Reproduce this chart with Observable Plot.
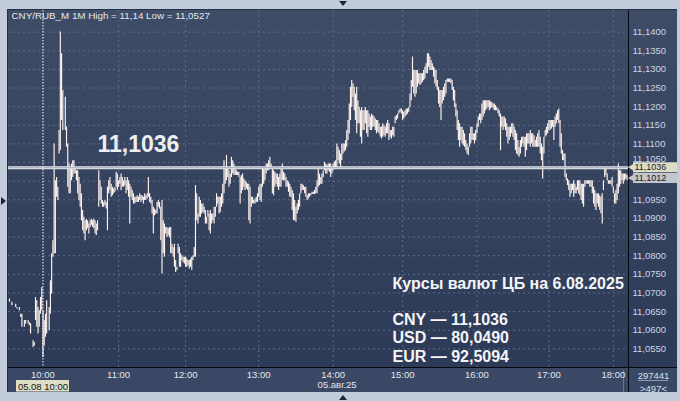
<!DOCTYPE html>
<html><head><meta charset="utf-8">
<script src="https://cdn.jsdelivr.net/npm/d3@7"></script>
<script src="https://cdn.jsdelivr.net/npm/@observablehq/plot@0.6"></script>
<style>
html,body{margin:0;padding:0;background:#c2ccda;}
#wrap{position:relative;width:680px;height:401px;overflow:hidden;background:#c2ccda;}
.abs{position:absolute;}
#panel{left:7px;top:9px;width:670px;height:383px;background:linear-gradient(#3f4c66,#2c3956);border-left:1px solid #243048;border-top:1px solid #243048;box-sizing:border-box;}
#band{left:8px;top:368px;width:669px;height:24px;background:#3b4865;}
#vline{left:628px;top:10px;width:1px;height:382px;background:#05080e;}
#hline{left:8px;top:367px;width:669px;height:1px;background:#05080e;}
#mark18{left:623px;top:370px;width:1px;height:22px;background:#6a768c;}
#volsep{left:638px;top:380px;width:30px;height:1px;background:#8e9ab0;}
#tt{left:339px;top:1px;width:0;height:0;border-left:4px solid transparent;border-right:4px solid transparent;border-top:5px solid #1c2535;}
#tb{left:339px;top:395px;width:0;height:0;border-left:4px solid transparent;border-right:4px solid transparent;border-bottom:5px solid #1c2535;}
#tl{left:1px;top:197px;width:0;height:0;border-top:4px solid transparent;border-bottom:4px solid transparent;border-left:5px solid #1c2535;}
#chart{left:0;top:0;}
</style></head>
<body>
<div id="wrap">
  <div id="panel" class="abs"></div>
  <div id="band" class="abs"></div>
  <div id="vline" class="abs"></div>
  <div id="hline" class="abs"></div>
  <div id="mark18" class="abs"></div>
  <div id="volsep" class="abs"></div>
  <div id="tt" class="abs"></div>
  <div id="tb" class="abs"></div>
  <div id="tl" class="abs"></div>
  <div id="chart" class="abs"></div>
</div>
<script>
// ---- data ----
const symbol = "CNY/RUB_M";
const period = "1M";
const sessionHigh = 11.14;
const sessionLow = 11.0527;
const cbRate = 11.1036;
const lastPrice = 11.1012;
const cbDate = "6.08.2025";
const rateCodes = ["CNY", "USD", "EUR"];
const rateValues = [11.1036, 80.0490, 92.5094];
const hourLabels = ["10:00","11:00","12:00","13:00","14:00","15:00","16:00","17:00","18:00"];
const hourBars = [27, 88, 142, 201, 261, 317, 377, 435, 487];
const dateLabel = "05.авг.25";
const crossBar = 27;
const crossLabel = "05.08 10:00";
const volume = "297441";
const barCount = 497;
const yTicks = [11.055,11.06,11.065,11.07,11.075,11.08,11.085,11.09,11.095,11.10,11.105,11.11,11.115,11.12,11.125,11.13,11.135,11.14];
// [bar index, high, low]
const candles = [
[0,11.0684,11.0675],[2,11.0675,11.0666],[5,11.0670,11.0661],[6,11.0661,11.0657],[8,11.0661,11.0652],[9,11.0643,11.0634],[10,11.0643,11.0608],[12,11.0626,11.0608],[13,11.0626,11.0617],[15,11.0626,11.0617],[16,11.0621,11.0612],[17,11.0617,11.0590],[19,11.0572,11.0554],[20,11.0567,11.0558],[21,11.0688,11.0626],[22,11.0679,11.0608],[23,11.0661,11.0590],[24,11.0652,11.0608],[25,11.0688,11.0643],[26,11.0715,11.0652],[27,11.0652,11.0527],[28,11.0626,11.0558],[29,11.0643,11.0581],[30,11.0679,11.0590],[32,11.0661,11.0599],[33,11.0733,11.0643],[34,11.0805,11.0697],[35,11.0840,11.0796],[36,11.1100,11.0805],[37,11.1001,11.0805],[38,11.1010,11.0957],[39,11.0984,11.0948],[40,11.1136,11.1073],[41,11.1400,11.1082],[42,11.1342,11.1163],[43,11.1243,11.1136],[45,11.1225,11.1136],[46,11.1145,11.1091],[47,11.1100,11.0984],[48,11.1046,11.0966],[49,11.1037,11.0966],[50,11.1046,11.1001],[51,11.1055,11.1010],[52,11.1055,11.1019],[53,11.1037,11.1019],[54,11.1028,11.1001],[55,11.1028,11.0966],[56,11.1010,11.0948],[57,11.0992,11.0930],[58,11.0966,11.0894],[59,11.0921,11.0867],[60,11.0903,11.0858],[61,11.0894,11.0840],[62,11.0898,11.0867],[63,11.0894,11.0872],[64,11.0885,11.0858],[65,11.0894,11.0876],[66,11.0898,11.0881],[67,11.0894,11.0876],[68,11.0898,11.0872],[69,11.0894,11.0858],[70,11.0885,11.0854],[71,11.0894,11.0867],[72,11.1028,11.0930],[73,11.1001,11.0948],[74,11.0984,11.0939],[75,11.0948,11.0930],[76,11.0943,11.0930],[77,11.0948,11.0934],[78,11.0943,11.0925],[79,11.0984,11.0867],[80,11.1001,11.0966],[81,11.1010,11.0975],[82,11.0992,11.0957],[83,11.0984,11.0961],[84,11.0979,11.0966],[85,11.0984,11.0970],[86,11.1024,11.0984],[87,11.1019,11.0975],[88,11.1001,11.0984],[89,11.1010,11.0992],[90,11.1019,11.0975],[91,11.1010,11.0984],[92,11.1001,11.0984],[93,11.1010,11.0988],[94,11.1001,11.0966],[95,11.1010,11.0975],[96,11.1001,11.0957],[97,11.0992,11.0885],[98,11.0984,11.0957],[99,11.0975,11.0948],[100,11.0966,11.0939],[101,11.0957,11.0939],[102,11.0957,11.0943],[103,11.0961,11.0943],[104,11.0957,11.0943],[105,11.0966,11.0948],[106,11.0961,11.0943],[107,11.0961,11.0948],[108,11.0957,11.0939],[109,11.0966,11.0948],[110,11.0961,11.0948],[111,11.0966,11.0952],[112,11.1010,11.0957],[113,11.0966,11.0943],[114,11.0957,11.0939],[115,11.0948,11.0912],[116,11.0930,11.0858],[117,11.0925,11.0907],[118,11.0921,11.0912],[119,11.0943,11.0912],[120,11.0948,11.0930],
[121,11.0943,11.0925],[122,11.0930,11.0840],[123,11.0948,11.0751],[124,11.0894,11.0805],[125,11.0885,11.0796],[126,11.0876,11.0858],[127,11.0876,11.0849],[128,11.0872,11.0854],[129,11.0876,11.0849],[130,11.0876,11.0805],[131,11.0831,11.0805],[132,11.0822,11.0796],[133,11.0831,11.0769],[134,11.0787,11.0755],[135,11.0769,11.0760],[136,11.0831,11.0805],[137,11.0822,11.0769],[138,11.0805,11.0769],[139,11.0800,11.0787],[140,11.0796,11.0782],[141,11.0796,11.0778],[142,11.0796,11.0769],[143,11.0791,11.0769],[144,11.0787,11.0773],[145,11.0787,11.0764],[146,11.0791,11.0769],[147,11.0796,11.0760],[148,11.0800,11.0787],[149,11.0822,11.0796],[150,11.0988,11.0796],[151,11.0966,11.0894],[152,11.0912,11.0885],[153,11.0957,11.0903],[154,11.0948,11.0903],[155,11.0939,11.0912],[156,11.0939,11.0916],[157,11.0930,11.0912],[158,11.0921,11.0885],[159,11.0903,11.0885],[160,11.0921,11.0903],[161,11.0912,11.0867],[162,11.0921,11.0858],[163,11.0912,11.0885],[164,11.0912,11.0894],[165,11.0930,11.0885],[166,11.0930,11.0903],[167,11.0966,11.0930],[168,11.0957,11.0939],[169,11.0957,11.0912],[170,11.0957,11.0916],[171,11.0966,11.0930],[172,11.0992,11.0939],[173,11.1055,11.0966],[174,11.1037,11.0992],[175,11.1069,11.1001],[176,11.1037,11.1010],[177,11.1028,11.0984],[178,11.1019,11.0992],[179,11.1064,11.1010],[180,11.1055,11.1019],[181,11.1046,11.1015],[182,11.1037,11.1015],[183,11.1028,11.1015],[184,11.1024,11.1015],[185,11.1024,11.1010],[186,11.1010,11.0939],[187,11.1015,11.0966],[188,11.1019,11.0975],[189,11.1006,11.0984],[190,11.1001,11.0975],[191,11.0997,11.0979],[192,11.0992,11.0975],[193,11.0992,11.0894],[194,11.0984,11.0885],[195,11.0957,11.0930],[196,11.0957,11.0939],[197,11.0948,11.0939],[198,11.0952,11.0939],[199,11.0957,11.0943],[200,11.0966,11.0943],[201,11.0984,11.0957],[202,11.0992,11.0948],[203,11.0992,11.0943],[204,11.1037,11.0984],[205,11.1037,11.0992],[206,11.1037,11.1001],[207,11.1046,11.1019],[208,11.1046,11.1028],[209,11.1055,11.1028],[210,11.1064,11.1033],[211,11.1046,11.1037],[212,11.1037,11.0966],[213,11.1028,11.0961],[214,11.1024,11.0984],[215,11.1019,11.0992],[216,11.1019,11.0984],[217,11.1010,11.0975],[218,11.1019,11.0984],[219,11.1037,11.0984],[220,11.1046,11.1001],[221,11.1024,11.1001],[222,11.1019,11.1001],[223,11.1010,11.0984],[224,11.1001,11.0984],[225,11.0997,11.0970],[226,11.0992,11.0957],[227,11.0984,11.0957],[228,11.0975,11.0921],[229,11.0966,11.0894],[230,11.0948,11.0894],[231,11.0930,11.0890],[232,11.0939,11.0912],[233,11.0948,11.0921],[234,11.0966,11.0930],[235,11.0992,11.0966],[236,11.0992,11.0975],[237,11.0988,11.0975],[238,11.0984,11.0966],[239,11.0984,11.0957],[240,11.0961,11.0948],[241,11.0966,11.0952],[242,11.0966,11.0957],[243,11.0966,11.0961],
[244,11.0970,11.0964],[245,11.0970,11.0964],[246,11.0975,11.0964],[247,11.0984,11.0966],[248,11.1001,11.0966],[249,11.1037,11.0984],[250,11.1019,11.0988],[251,11.1010,11.0992],[252,11.1019,11.0992],[253,11.1028,11.1010],[254,11.1051,11.1028],[255,11.1046,11.1019],[256,11.1042,11.1019],[257,11.1046,11.1028],[258,11.1046,11.1024],[259,11.1046,11.1010],[260,11.1037,11.1019],[261,11.1046,11.1028],[262,11.1051,11.1033],[263,11.1055,11.1037],[264,11.1100,11.1037],[265,11.1091,11.1055],[266,11.1082,11.1046],[267,11.1073,11.1037],[268,11.1100,11.1055],[269,11.1100,11.1073],[270,11.1100,11.1078],[271,11.1109,11.1082],[272,11.1136,11.1091],[273,11.1163,11.1109],[274,11.1207,11.1127],[275,11.1252,11.1163],[276,11.1270,11.1198],[277,11.1261,11.1225],[278,11.1252,11.1189],[279,11.1234,11.1163],[280,11.1252,11.1127],[281,11.1216,11.1154],[282,11.1198,11.1154],[283,11.1189,11.1118],[284,11.1198,11.1100],[285,11.1189,11.1136],[286,11.1189,11.1136],[287,11.1198,11.1154],[288,11.1189,11.1127],[289,11.1189,11.1118],[290,11.1180,11.1145],[291,11.1172,11.1136],[292,11.1180,11.1136],[293,11.1176,11.1145],[294,11.1172,11.1145],[295,11.1167,11.1136],[296,11.1163,11.1127],[297,11.1163,11.1131],[298,11.1154,11.1127],[299,11.1145,11.1118],[300,11.1145,11.1113],[301,11.1154,11.1118],[302,11.1149,11.1122],[303,11.1145,11.1118],[304,11.1154,11.1127],[305,11.1163,11.1127],[306,11.1154,11.1109],[307,11.1136,11.1118],[308,11.1136,11.1113],[309,11.1145,11.1122],[310,11.1145,11.1118],[311,11.1172,11.1154],[312,11.1176,11.1163],[313,11.1180,11.1167],[314,11.1189,11.1180],[315,11.1194,11.1185],[316,11.1194,11.1180],[317,11.1189,11.1163],[318,11.1185,11.1167],[319,11.1189,11.1172],[320,11.1194,11.1176],[321,11.1194,11.1180],[322,11.1198,11.1185],[323,11.1234,11.1198],[324,11.1270,11.1216],[325,11.1333,11.1252],[326,11.1297,11.1234],[327,11.1297,11.1225],[328,11.1297,11.1234],[329,11.1297,11.1252],[330,11.1288,11.1261],[331,11.1288,11.1257],[332,11.1288,11.1261],[333,11.1288,11.1265],[334,11.1297,11.1270],[335,11.1306,11.1274],[336,11.1315,11.1288],[337,11.1342,11.1288],[338,11.1342,11.1306],[339,11.1333,11.1297],[340,11.1324,11.1297],[341,11.1315,11.1297],[342,11.1306,11.1279],[343,11.1301,11.1261],[344,11.1297,11.1252],[345,11.1270,11.1243],[346,11.1252,11.1207],[347,11.1243,11.1198],[348,11.1243,11.1163],[349,11.1243,11.1207],[350,11.1252,11.1216],[351,11.1261,11.1225],[352,11.1270,11.1234],[353,11.1274,11.1265],[354,11.1274,11.1265],[355,11.1274,11.1265],[356,11.1274,11.1261],[357,11.1270,11.1243],[358,11.1252,11.1216],[359,11.1243,11.1198],[360,11.1207,11.1172],[361,11.1189,11.1136],[362,11.1163,11.1109],[363,11.1154,11.1091],[364,11.1145,11.1109],[365,11.1145,11.1100],[366,11.1136,11.1095],[367,11.1127,11.1091],[368,11.1109,11.1082],[369,11.1100,11.1073],[370,11.1091,11.1069],
[371,11.1127,11.1091],[372,11.1145,11.1100],[373,11.1145,11.1109],[374,11.1127,11.1109],[375,11.1127,11.1100],[376,11.1136,11.1109],[377,11.1154,11.1127],[378,11.1172,11.1145],[379,11.1180,11.1163],[380,11.1180,11.1154],[381,11.1207,11.1163],[382,11.1216,11.1172],[383,11.1216,11.1180],[384,11.1216,11.1189],[385,11.1216,11.1194],[386,11.1216,11.1198],[387,11.1216,11.1189],[388,11.1212,11.1194],[389,11.1212,11.1198],[390,11.1207,11.1194],[391,11.1207,11.1189],[392,11.1203,11.1189],[393,11.1198,11.1189],[394,11.1194,11.1180],[395,11.1189,11.1172],[396,11.1180,11.1082],[397,11.1172,11.1145],[398,11.1172,11.1136],[399,11.1172,11.1145],[400,11.1167,11.1136],[401,11.1154,11.1118],[402,11.1145,11.1100],[403,11.1145,11.1109],[404,11.1145,11.1118],[405,11.1154,11.1127],[406,11.1154,11.1118],[407,11.1145,11.1109],[408,11.1136,11.1082],[409,11.1127,11.1073],[410,11.1109,11.1069],[411,11.1091,11.1064],[412,11.1109,11.1073],[413,11.1118,11.1091],[414,11.1118,11.1100],[415,11.1118,11.1091],[416,11.1118,11.1064],[417,11.1127,11.1082],[418,11.1127,11.1100],[419,11.1127,11.1100],[420,11.1136,11.1091],[421,11.1127,11.1100],[422,11.1127,11.1091],[423,11.1122,11.1091],[424,11.1109,11.1091],[425,11.1118,11.1091],[426,11.1127,11.1091],[427,11.1136,11.1091],[428,11.1118,11.1073],[429,11.1100,11.1055],[430,11.1091,11.1006],[431,11.1118,11.1073],[432,11.1136,11.1118],[433,11.1145,11.1122],[434,11.1154,11.1127],[435,11.1163,11.1136],[436,11.1163,11.1136],[437,11.1163,11.1140],[438,11.1163,11.1145],[439,11.1163,11.1109],[440,11.1172,11.1145],[441,11.1180,11.1154],[442,11.1189,11.1163],[443,11.1194,11.1154],[444,11.1163,11.1091],[445,11.1127,11.1073],[446,11.1082,11.1055],[447,11.1073,11.1055],[448,11.1073,11.1010],[449,11.1019,11.1001],[450,11.1006,11.0988],[451,11.1001,11.0975],[452,11.0992,11.0957],[453,11.0992,11.0966],[454,11.0992,11.0975],[455,11.1001,11.0957],[456,11.0992,11.0966],[457,11.0984,11.0966],[458,11.1001,11.0975],[459,11.1001,11.0966],[460,11.1001,11.0961],[461,11.0992,11.0948],[462,11.0992,11.0939],[463,11.0992,11.0930],[464,11.1001,11.0984],[465,11.1001,11.0992],[466,11.1001,11.0992],[467,11.1001,11.0992],[468,11.1001,11.0984],[469,11.1001,11.0984],[470,11.1001,11.0966],[471,11.0984,11.0939],[472,11.0975,11.0930],[473,11.0966,11.0921],[474,11.0966,11.0939],[475,11.0966,11.0930],[476,11.0961,11.0921],[477,11.0957,11.0912],[478,11.0966,11.0885],[479,11.1001,11.0975],[480,11.1037,11.1010],[481,11.1037,11.1015],[482,11.1019,11.1001],[483,11.1001,11.0992],[484,11.1001,11.0992],[485,11.1001,11.0992],[486,11.1010,11.0984],[487,11.0984,11.0966],[488,11.0966,11.0939],[489,11.0975,11.0939],[490,11.0992,11.0948],[491,11.1046,11.0966],[492,11.1028,11.0984],[493,11.1028,11.0992],[494,11.1019,11.1001],[495,11.1019,11.0992],[496,11.1019,11.1001],[497,11.1019,11.1006],[498,11.1015,11.1001]
];

// ---- chart ----
const fmt4 = d => d.toFixed(4).replace(".", ",");
const fmtShort = d => String(d).replace(".", ",");
const bars = candles.map(([bar, high, low]) => ({bar, high, low}));
const header = `${symbol} ${period} High = ${fmtShort(sessionHigh)} Low = ${fmtShort(sessionLow)}`;
const ratesText = `Курсы валют ЦБ на ${cbDate}\n\n` + rateCodes.map((c, i) => `${c} — ${fmt4(rateValues[i])}`).join("\n");
// tick labels near the price tags: the one under the last-price tag is hidden,
// the one just above the CB tag is nudged up so it stays readable
const nearTag = t => Math.abs(t - lastPrice) < 0.0013 || Math.abs(t - cbRate) < 0.0015;
const yLabelTicks = yTicks.filter(t => !nearTag(t));
const nudgedTicks = yTicks.filter(t => Math.abs(t - cbRate) < 0.0015 && t > cbRate);
const font = "'Liberation Sans', Arial, sans-serif";
const grid = "#5c6b89";
const tagStyle = {frameAnchor: "right", textAnchor: "start", lineAnchor: "middle", dx: 6, fill: "#1a1a1a", fontSize: 9};

const chart = Plot.plot({
  width: 680, height: 401,
  marginLeft: 8, marginRight: 52, marginTop: 10, marginBottom: 34,
  style: {background: "transparent", fontFamily: font, overflow: "visible"},
  x: {domain: [-0.8, 499.2], axis: null},
  y: {domain: [11.05, 11.1458], axis: null},
  marks: [
    Plot.ruleY(yTicks, {stroke: grid, strokeDasharray: "2,3"}),
    Plot.ruleX(hourBars.slice(1), {stroke: grid, strokeDasharray: "2,3"}),
    Plot.ruleX(bars, {x: "bar", y1: "low", y2: "high", stroke: "#fff3ee", strokeWidth: 1.15}),
    Plot.ruleY([cbRate], {stroke: "#e6e8ec", strokeWidth: 3}),
    Plot.ruleY([cbRate], {stroke: "#9ea6b6", strokeWidth: 1}),
    Plot.ruleX([crossBar], {stroke: "#ffffff", strokeDasharray: "1.5,1.5"}),
    Plot.axisY(yLabelTicks, {anchor: "right", label: null, tickSize: 0, tickPadding: 4, tickFormat: fmt4, fill: "#c8d5ea", fontSize: 9.5}),
    Plot.text(nudgedTicks, {y: d => d, frameAnchor: "right", dx: 4, dy: -4, textAnchor: "start", lineAnchor: "middle", text: fmt4, fill: "#c8d5ea", fontSize: 9.5}),
    Plot.axisX(hourBars, {anchor: "bottom", label: null, tickSize: 0, tickPadding: 4, tickFormat: d => hourLabels[hourBars.indexOf(d)], fill: "#e2e7ef", fontSize: 9.5}),
    Plot.text([dateLabel], {x: hourBars[4], frameAnchor: "bottom", dx: 4, dy: 14, lineAnchor: "top", textAnchor: "middle", text: d => d, fill: "#e2e7ef", fontSize: 9.5}),
    // crosshair date tag
    Plot.rect([crossLabel], {insetLeft: 8, insetRight: 559, insetTop: 370, insetBottom: -24.5, fill: "#dedec6"}),
    Plot.text([crossLabel], {x: crossBar, frameAnchor: "bottom", dy: 15.5, lineAnchor: "top", textAnchor: "middle", text: d => d, fill: "#151515", fontSize: 9.5}),
    // price tags on the right axis
    Plot.ruleY([cbRate], {stroke: "#dcdec8", strokeWidth: 10, insetLeft: 625, insetRight: -49, dy: -0.5}),
    Plot.dot([cbRate], {y: d => d, frameAnchor: "right", symbol: "triangle", rotate: -90, r: 4.2, fill: "#dcdec8", stroke: "none", dx: 6, dy: -0.5}),
    Plot.text([cbRate], {...tagStyle, y: d => d, dy: -0.5, text: fmt4}),
    Plot.ruleY([lastPrice], {stroke: "#c2c6ce", strokeWidth: 10, insetLeft: 625, insetRight: -49, dy: 1.2}),
    Plot.dot([lastPrice], {y: d => d, frameAnchor: "right", symbol: "triangle", rotate: -90, r: 4.2, fill: "#c2c6ce", stroke: "none", dx: 6, dy: 1.2}),
    Plot.text([lastPrice], {...tagStyle, y: d => d, dy: 1.2, text: fmt4}),
    // header
    Plot.text([header], {frameAnchor: "top-left", dx: 3, dy: 2, textAnchor: "start", lineAnchor: "top", text: d => d, fill: "#e3e8f0", fontSize: 9.8}),
    // big CB rate label
    Plot.text([cbRate], {y: d => d, frameAnchor: "left", dx: 89, dy: -15.6, textAnchor: "start", lineAnchor: "bottom", text: fmt4, fill: "#eceef2", fontSize: 23, fontWeight: "bold"}),
    // CB rates block
    Plot.text([ratesText], {frameAnchor: "bottom-left", dx: 384, dy: -6, textAnchor: "start", lineAnchor: "bottom", lineHeight: 1.13, text: d => d, fill: "#f4f5f8", fontSize: 16, fontWeight: "bold"}),
    // volume / bar count cell
    Plot.text([`${volume}\n>${barCount}<`], {frameAnchor: "bottom-right", dx: 25, dy: 3, textAnchor: "middle", lineAnchor: "top", lineHeight: 1.3, text: d => d, fill: "#d8e0ec", fontSize: 9.5})
  ]
});
document.getElementById("chart").appendChild(chart);
</script>
</body></html>
